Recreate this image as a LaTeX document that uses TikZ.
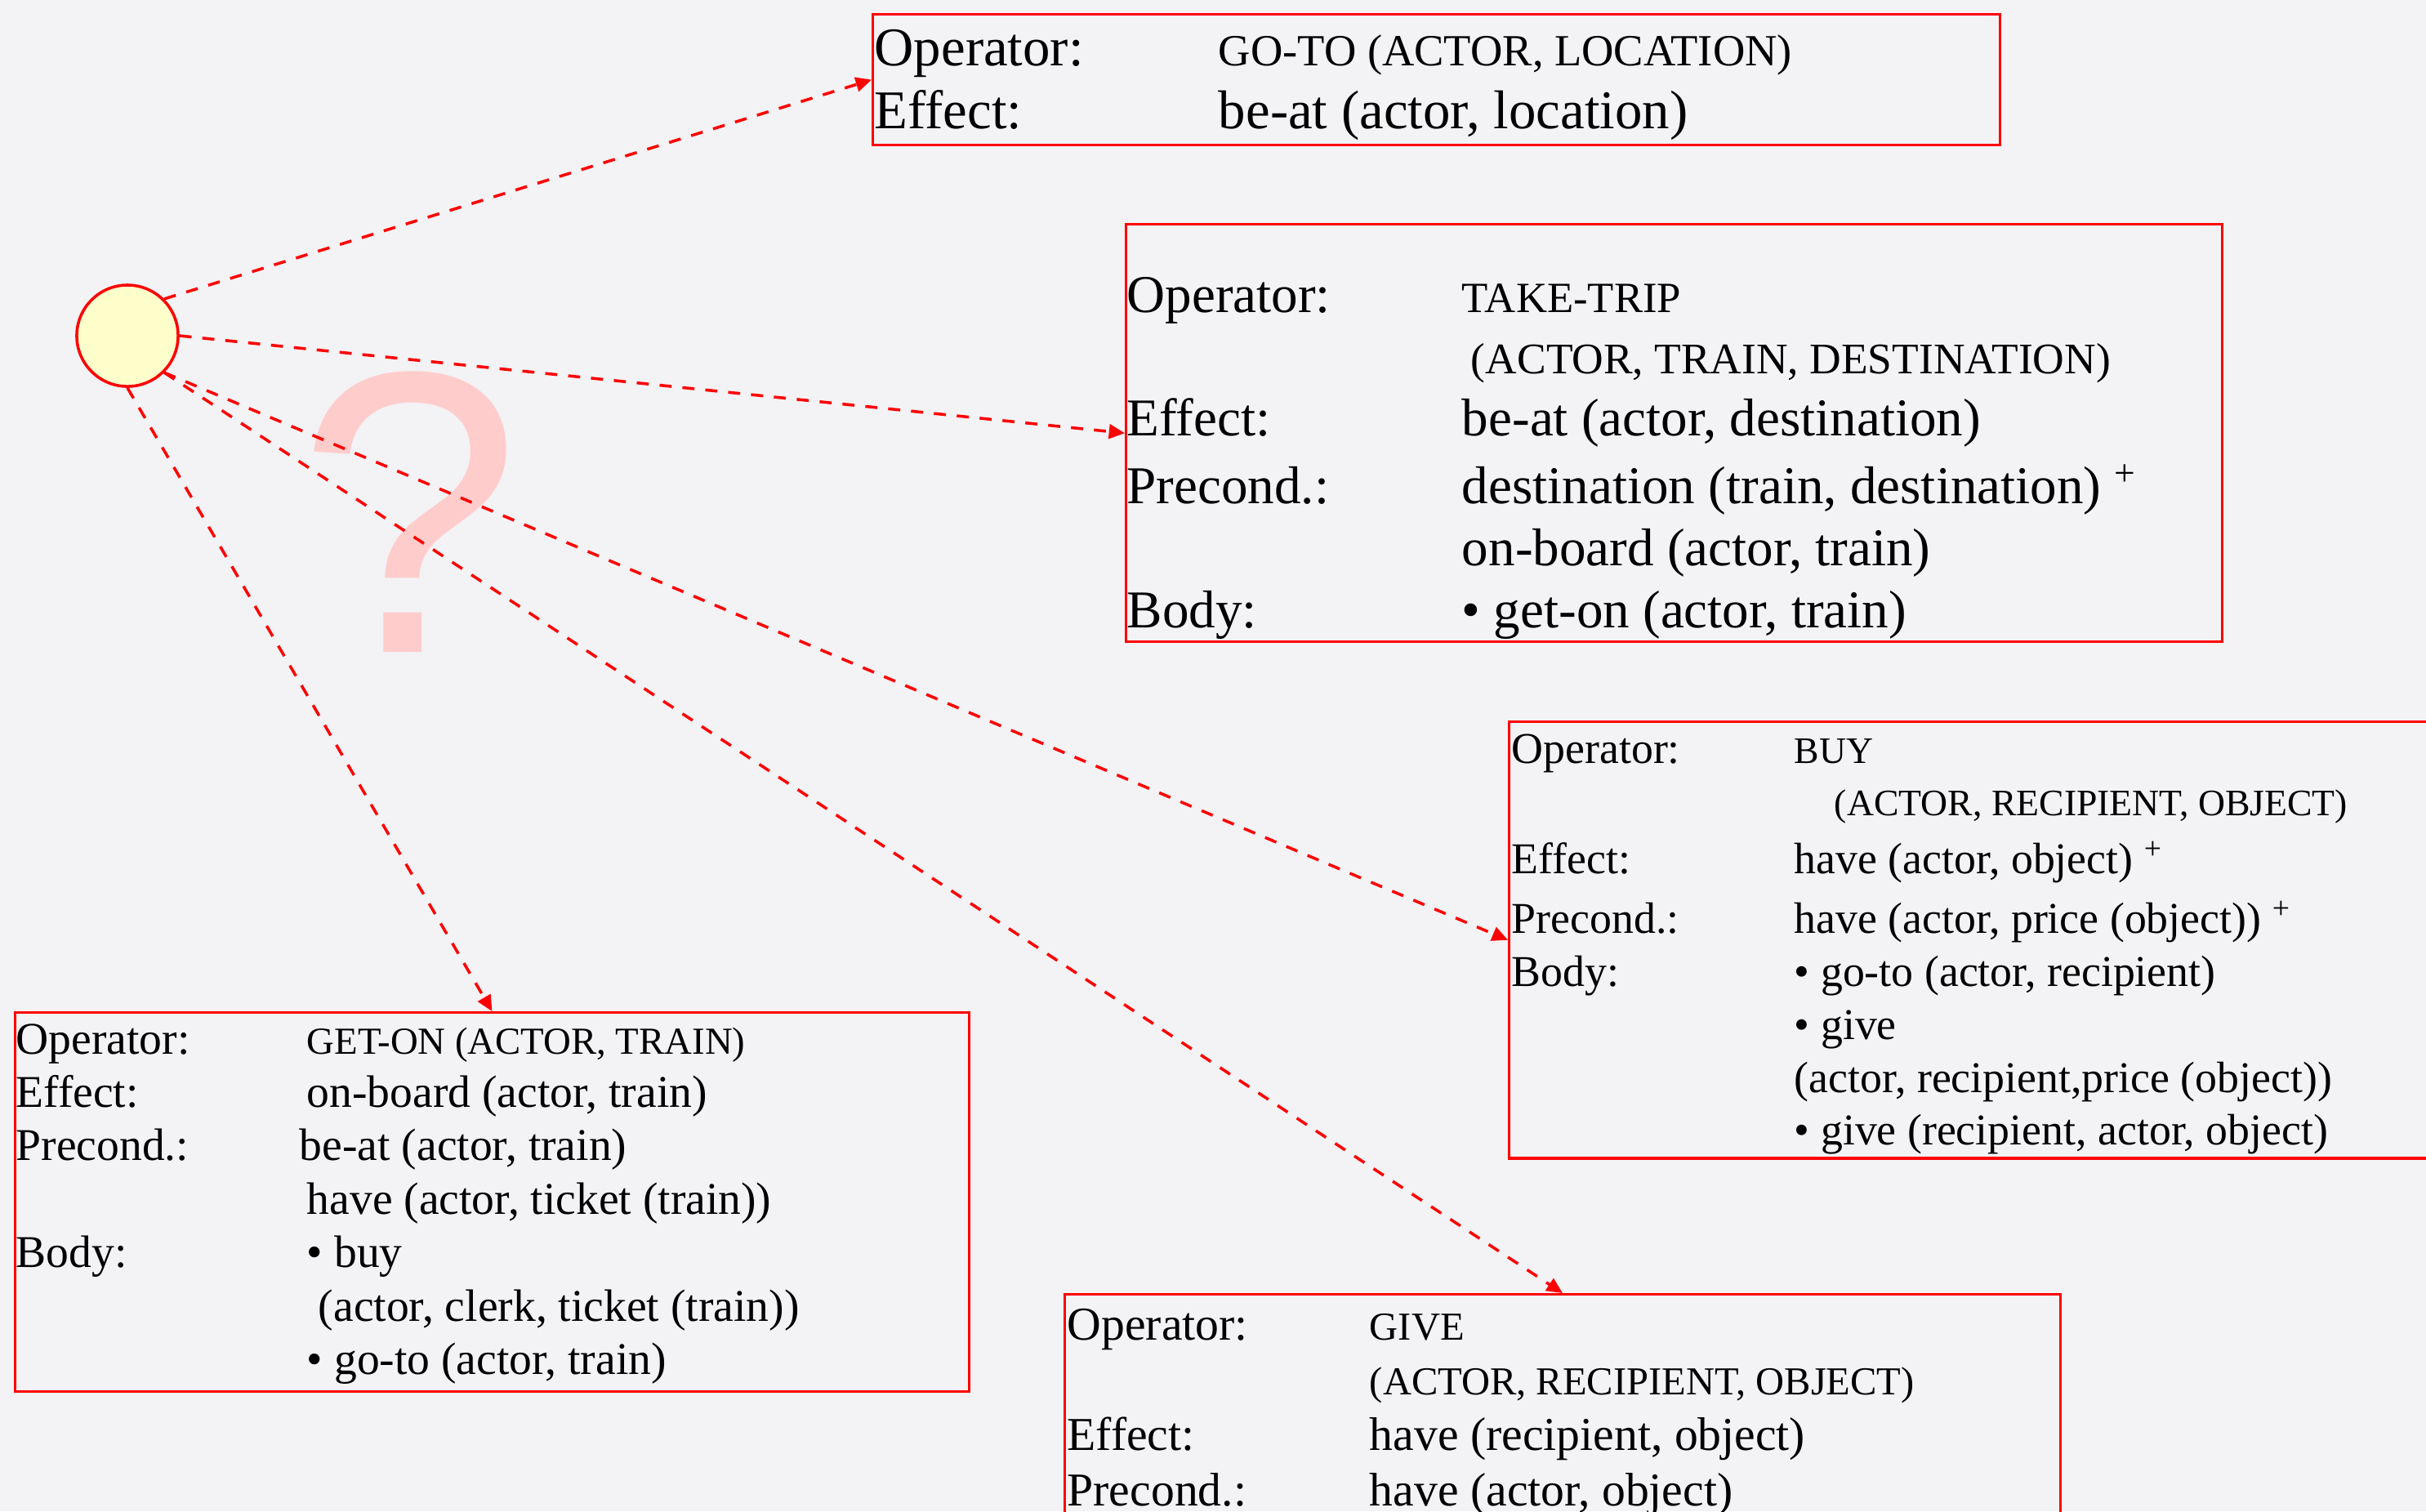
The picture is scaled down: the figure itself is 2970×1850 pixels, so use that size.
\documentclass[tikz,border=0pt]{standalone}
\usepackage{fontspec}
\setmainfont{Liberation Serif}
\newfontfamily\qfont{Liberation Sans}
\usetikzlibrary{arrows.meta}
\definecolor{opred}{HTML}{FF0000}
\definecolor{paper}{HTML}{F3F2F5}
\definecolor{sunfill}{HTML}{FFFFCC}
\definecolor{qpink}{HTML}{FFCCCC}
\newcommand{\opname}[2]{{\fontsize{#1}{#1}\selectfont #2}}

\begin{document}
\begin{tikzpicture}[x=0.01cm,y=-0.01cm,
  opbox/.style={draw=opred,line width=0.9pt,rectangle,inner sep=0pt,anchor=north west},
  optext/.style={anchor=base west,inner sep=0pt},
  link/.style={draw=opred,line width=1pt,dash pattern=on 4.2pt off 3.8pt,-{Triangle[length=5.5pt,width=5pt]}}
]
\useasboundingbox (0,0) rectangle (2970,1850);
\clip (0,0) rectangle (2970,1850);
\fill[paper] (0,0) rectangle (2970,1850);

\node[text=qpink,font=\qfont\fontsize{140}{140}\selectfont,anchor=base,inner sep=0pt] (query) at (501,798) {?};

\node[opbox,minimum width=13.79cm,minimum height=1.60cm] (gotobox) at (1067,16) {};
\node[opbox,minimum width=13.41cm,minimum height=5.11cm] (tripbox) at (1377,273) {};
\node[opbox,minimum width=12.00cm,minimum height=5.34cm] (buybox) at (1846,882) {};
\node[opbox,minimum width=11.67cm,minimum height=4.64cm] (getonbox) at (17,1238) {};
\node[opbox,minimum width=12.18cm,minimum height=4.00cm] (givebox) at (1302,1583) {};

\node[optext,font=\fontsize{19}{21.9}\selectfont] (gototext) at (1070,80) {%
\begin{tabular}[t]{@{}p{4.21cm}@{}l@{}}
Operator: & \opname{15.5}{GO-TO (ACTOR, LOCATION)}\\
Effect: & be-at (actor, location)
\end{tabular}};

\node[optext,font=\fontsize{18.5}{21.5}\selectfont] (triptext) at (1379,382) {%
\begin{tabular}[t]{@{}p{4.10cm}@{}l@{}}
Operator: & \opname{15}{TAKE-TRIP}\\
 & \hspace{0.11cm}\opname{15.2}{(ACTOR, TRAIN, DESTINATION)}\\
Effect: & be-at (actor, destination)\\[2.3pt]
Precond.: & destination (train, destination) \textsuperscript{+}\\
 & on-board (actor, train)\\
Body: & \textbullet{} get-on (actor, train)
\end{tabular}};

\node[optext,font=\fontsize{15.3}{18.4}\selectfont] (buytext) at (1850,934) {%
\begin{tabular}[t]{@{}p{3.46cm}@{}l@{}}
Operator: & \opname{13}{BUY}\\
 & \hspace{0.49cm}\opname{13}{(ACTOR, RECIPIENT, OBJECT)}\\[1.8pt]
Effect: & have (actor, object) \textsuperscript{+}\\[2.4pt]
Precond.: & have (actor, price (object)) \textsuperscript{+}\\
Body: & \textbullet{} go-to (actor, recipient)\\
 & \textbullet{} give\\
 & (actor, recipient,price (object))\\
 & \textbullet{} give (recipient, actor, object)
\end{tabular}};

\node[optext,font=\fontsize{15.8}{18.6}\selectfont] (getontext) at (19,1290) {%
\begin{tabular}[t]{@{}p{3.56cm}@{}l@{}}
Operator: & \opname{13.3}{GET-ON (ACTOR, TRAIN)}\\
Effect: & on-board (actor, train)\\
Precond.: & \hspace{-0.09cm}be-at (actor, train)\\
 & have (actor, ticket (train))\\
Body: & \textbullet{} buy\\
 & \hspace{0.14cm}(actor, clerk, ticket (train))\\
 & \textbullet{} go-to (actor, train)
\end{tabular}};

\node[optext,font=\fontsize{16.4}{19.3}\selectfont] (givetext) at (1306,1640) {%
\begin{tabular}[t]{@{}p{3.70cm}@{}l@{}}
Operator: & \opname{13.8}{GIVE}\\
 & \opname{13.8}{(ACTOR, RECIPIENT, OBJECT)}\\
Effect: & have (recipient, object)\\
Precond.: & have (actor, object)
\end{tabular}};

\node[circle,draw=opred,line width=1pt,fill=sunfill,minimum size=1.24cm,inner sep=0pt] (sun) at (156,411) {};

\draw[link] (sun.north east) -- (gotobox.west);
\draw[link] (sun.east) -- (tripbox.west);
\draw[link] (sun.south east) -- (buybox.west);
\draw[link] (sun.south east) -- (givebox.north);
\draw[link] (sun.south) -- (getonbox.north);
\end{tikzpicture}
\end{document}
